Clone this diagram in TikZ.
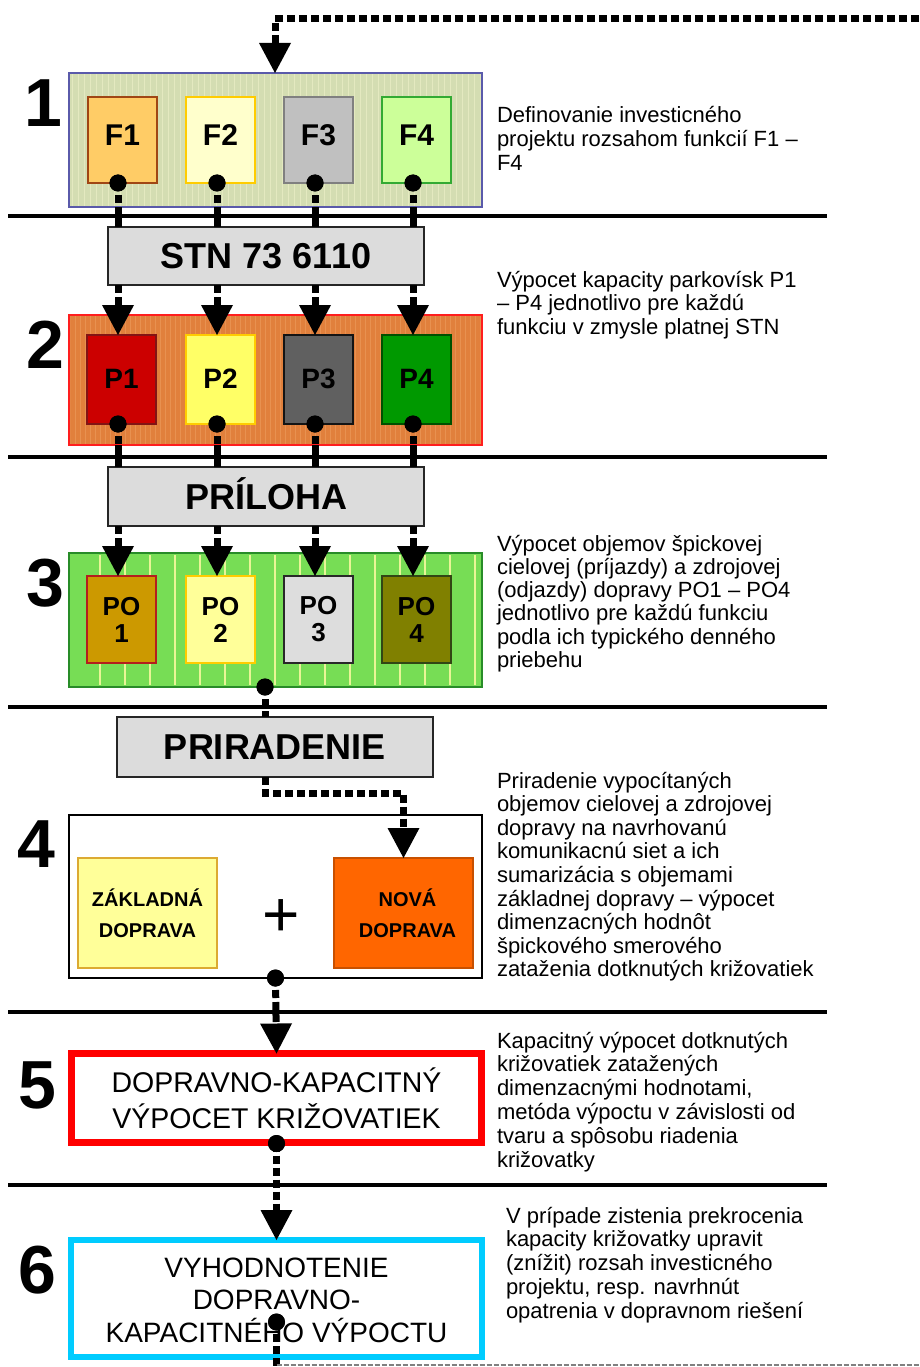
\documentclass[tikz,border=0pt]{standalone}
\usepackage{fontspec}
\setmainfont{Liberation Sans}
\usetikzlibrary{arrows.meta,calc}
\definecolor{b1fill}{RGB}{212,221,178}
\definecolor{b1grid}{RGB}{228,233,192}
\definecolor{b1line}{RGB}{90,90,170}
\definecolor{f1fill}{RGB}{255,204,102}\definecolor{f1line}{RGB}{160,70,20}
\definecolor{f2fill}{RGB}{255,255,204}\definecolor{f2line}{RGB}{255,204,0}
\definecolor{f3fill}{RGB}{192,192,192}\definecolor{f3line}{RGB}{128,128,128}
\definecolor{f4fill}{RGB}{204,255,153}\definecolor{f4line}{RGB}{51,170,51}
\definecolor{b2fill}{RGB}{225,128,60}\definecolor{b2line}{RGB}{255,30,30}
\definecolor{b2grid}{RGB}{232,145,80}
\definecolor{p1fill}{RGB}{204,0,0}\definecolor{p1line}{RGB}{130,20,20}
\definecolor{p2fill}{RGB}{255,255,102}\definecolor{p2line}{RGB}{255,204,0}
\definecolor{p3fill}{RGB}{96,96,96}\definecolor{p3line}{RGB}{20,20,20}
\definecolor{p4fill}{RGB}{0,153,0}\definecolor{p4line}{RGB}{0,80,0}
\definecolor{b3fill}{RGB}{119,221,85}\definecolor{b3line}{RGB}{40,140,40}
\definecolor{b3stripe}{RGB}{232,245,150}
\definecolor{o1fill}{RGB}{204,153,0}\definecolor{o1line}{RGB}{180,30,30}
\definecolor{o2fill}{RGB}{255,255,153}\definecolor{o2line}{RGB}{255,204,0}
\definecolor{o3fill}{RGB}{221,221,221}\definecolor{o3line}{RGB}{40,40,40}
\definecolor{o4fill}{RGB}{128,128,0}\definecolor{o4line}{RGB}{50,70,20}
\definecolor{grayfill}{RGB}{220,220,220}
\definecolor{zakfill}{RGB}{255,255,153}\definecolor{zakline}{RGB}{220,170,50}
\definecolor{novfill}{RGB}{255,102,0}\definecolor{novline}{RGB}{200,80,0}
\definecolor{red5}{RGB}{255,0,0}
\definecolor{cyan6}{RGB}{0,204,255}
\begin{document}
\begin{tikzpicture}[x=1pt,y=-1pt,
  every node/.style={inner sep=0pt, outer sep=0pt},
  frame/.style={draw, anchor=north west, line width=1.5pt},
  fbox/.style={frame, minimum width=69pt, minimum height=86pt, font=\fontsize{30}{30}\selectfont\bfseries, text height=21.5pt, text depth=10pt},
  pbox/.style={frame, minimum width=69pt, minimum height=89pt, font=\fontsize{28}{28}\selectfont\bfseries, text height=20pt, text depth=3pt},
  obox/.style={frame, minimum width=69pt, minimum height=87pt, font=\fontsize{26}{27}\selectfont\bfseries, align=center},
  graybox/.style={frame, fill=grayfill, draw=black!85, font=\fontsize{36}{36}\selectfont\bfseries, text height=25.8pt, text depth=0pt},
  smallbox/.style={frame, minimum width=139pt, minimum height=110pt, font=\fontsize{20}{31}\selectfont\bfseries, align=center},
  conn/.style={line width=7pt, dash pattern=on 8pt off 4pt},
  solidconn/.style={line width=7pt},
  arr/.style={conn, -{Triangle[width=32pt,length=30pt,line width=0pt]}},
  dotc/.style={circle, fill=black, minimum size=17pt},
  numlab/.style={font=\fontsize{68}{68}\selectfont\bfseries},
  desc/.style={anchor=base west},
  rulel/.style={line width=3.5pt},
  thinret/.style={line width=1.5pt, gray, dash pattern=on 5pt off 2pt},
]
\useasboundingbox (0,0) rectangle (919,1367);
\fill[white] (0,0) rectangle (919,1367);

% section rules
\foreach \yy in {216,457,707,1012,1185} \draw[rulel] (8,\yy) -- (827,\yy);

% connector columns
\coordinate (c1) at (118,0);
\coordinate (c2) at (217,0);
\coordinate (c3) at (315,0);
\coordinate (c4) at (413,0);
\coordinate (c5) at (265,0);

% ---------- step 1
\node[frame, fill=b1fill, draw=b1line, minimum width=413pt, minimum height=134pt] (B1) at (69,73) {};
\begin{scope}
\clip (70.5,74.5) rectangle (480.5,205.5);
\draw[line width=1pt, b1grid] (64,70) grid[step=6] (490,210);
\end{scope}
\node[fbox, fill=f1fill, draw=f1line] (F1) at (88,97) {F1};
\node[fbox, fill=f2fill, draw=f2line] (F2) at (186,97) {F2};
\node[fbox, fill=f3fill, draw=f3line] (F3) at (284,97) {F3};
\node[fbox, fill=f4fill, draw=f4line] (F4) at (382,97) {F4};

\node[graybox, minimum width=316pt, minimum height=58pt] (STN) at (108,227) {STN 73 6110};

% ---------- step 2
\node[frame, fill=b2fill, draw=b2line, minimum width=413pt, minimum height=130pt] (B2) at (69,315) {};
\begin{scope}
\clip (70.5,316.5) rectangle (480.5,443.5);
\draw[line width=0.8pt, b2grid] (64,310) grid[step=5] (490,450);
\end{scope}
\node[pbox, fill=p1fill, draw=p1line] (P1) at (87,335) {P1};
\node[pbox, fill=p2fill, draw=p2line] (P2) at (186,335) {P2};
\node[pbox, fill=p3fill, draw=p3line] (P3) at (284,335) {P3};
\node[pbox, fill=p4fill, draw=p4line] (P4) at (382,335) {P4};

\node[graybox, minimum width=316pt, minimum height=59pt] (PRIL) at (108,467) {PRÍLOHA};

% ---------- step 3
\node[frame, fill=b3fill, draw=b3line, minimum width=413pt, minimum height=134pt] (B3) at (69,553) {};
\foreach \xx in {100,125,...,475} \draw[b3stripe, line width=1.3pt] (\xx,555) -- (\xx,685);
\node[obox, fill=o1fill, draw=o1line] (O1) at (87,576) {PO\\1};
\node[obox, fill=o2fill, draw=o2line] (O2) at (186,576) {PO\\2};
\node[obox, fill=o3fill, draw=o3line] (O3) at (284,576) {PO\\3};
\node[obox, fill=o4fill, draw=o4line] (O4) at (382,576) {PO\\4};

\node[graybox, minimum width=316pt, minimum height=60pt] (PRI) at (117,717) {PRIRADENIE};

% ---------- step 4
\node[frame, fill=white, draw=black, minimum width=413pt, minimum height=163pt] (B4) at (69,815) {};
\node[smallbox, fill=zakfill, draw=zakline] (ZAK) at (78,858) {ZÁKLADNÁ\\DOPRAVA};
\node[smallbox, fill=novfill, draw=novline] (NOV) at (334,858) {\hspace*{8pt}NOVÁ\\\hspace*{8pt}DOPRAVA};
\node[font=\fontsize{64}{64}\selectfont] (PLUS) at (281,918) {+};

% ---------- step 5
\node[frame, fill=white, draw=red5, line width=7pt, minimum width=410pt, minimum height=89pt] (B5) at (71.5,1053.5) {};
\node[anchor=base] (T5box) at (276.5,1092) {\parbox[t]{400pt}{\centering\fontsize{28.5}{36}\selectfont DOPRAVNO-KAPACITNÝ\\VÝPOCET KRIŽOVATIEK}};

% ---------- step 6
\node[frame, fill=white, draw=cyan6, line width=6pt, minimum width=411pt, minimum height=117pt] (B6) at (71,1240) {};
\node[anchor=base] (T6box) at (276.5,1277) {\parbox[t]{400pt}{\centering\fontsize{28}{32.5}\selectfont VYHODNOTENIE\\DOPRAVNO-\\KAPACITNÉHO VÝPOCTU}};

% ---------- dots (named nodes)
\node[dotc] (dF1) at (F1.south -| c1) {};
\node[dotc] (dF2) at (F2.south -| c2) {};
\node[dotc] (dF3) at (F3.south -| c3) {};
\node[dotc] (dF4) at (F4.south -| c4) {};
\node[dotc] (dP1) at (P1.south -| c1) {};
\node[dotc] (dP2) at (P2.south -| c2) {};
\node[dotc] (dP3) at (P3.south -| c3) {};
\node[dotc] (dP4) at (P4.south -| c4) {};
\node[dotc] (d3) at (B3.south -| c5) {};
\node[dotc] (d4) at (B4.south) {};
\node[dotc] (d5) at ($(B5.south)+(0,1)$) {};
\node[dotc] (d6) at ($(B6.south)+(0,-35)$) {};

% ---------- connectors
\foreach \i in {1,...,4} {
  \draw[conn] (dF\i.center) -- (B1.south -| c\i);
  \draw[solidconn] (B1.south -| c\i) -- (STN.north -| c\i);
  \draw[arr] (STN.south -| c\i) -- (P\i.north -| c\i);
  \draw[conn] (dP\i.center) -- (B2.south -| c\i);
  \draw[solidconn] (B2.south -| c\i) -- (PRIL.north -| c\i);
  \draw[arr] (PRIL.south -| c\i) -- (O\i.north -| c\i);
}
\draw[conn] (d3.center) -- (PRI.north -| c5);
\coordinate (bendA) at (265,793);
\coordinate (bendB) at (403.5,793);
\draw[arr] (PRI.south -| c5) -- (bendA) -- (bendB) -- (NOV.north);
\draw[arr] (d4.center) -- (B5.north);
\draw[arr] (d5.center) -- (B6.north);
\coordinate (botEnd) at (276.5,1367);
\draw[conn] (d6.center) -- (botEnd);
\coordinate (retA) at (276.5,1365);
\coordinate (retB) at (919,1365);
\draw[thinret] (retA) -- (retB);
\coordinate (topR) at (919,19);
\coordinate (topC) at (275,19);
\draw[arr] (topR) -- (topC) -- (B1.north -| topC);

% redraw dots on top
\foreach \d in {dF1,dF2,dF3,dF4,dP1,dP2,dP3,dP4,d3,d4,d5,d6} \fill (\d) circle (8.5);

% ---------- step numbers
\node[numlab] (N1) at (43,103) {1};
\node[numlab] (N2) at (45,345) {2};
\node[numlab] (N3) at (45,583) {3};
\node[numlab] (N4) at (36,844) {4};
\node[numlab] (N5) at (37,1085) {5};
\node[numlab] (N6) at (37,1270) {6};

% ---------- descriptions
\node[desc] (T1) at (497,123) {\parbox[t]{360pt}{\raggedright\fontsize{22}{24}\selectfont Definovanie investicného\\projektu rozsahom funkcií F1 –\\F4}};
\node[desc] (T2) at (497,287) {\parbox[t]{360pt}{\raggedright\fontsize{22}{23.5}\selectfont Výpocet kapacity parkovísk P1\\– P4 jednotlivo pre každú\\funkciu v zmysle platnej STN}};
\node[desc] (T3) at (497,551) {\parbox[t]{360pt}{\raggedright\fontsize{22}{23.3}\selectfont Výpocet objemov špickovej\\cielovej (príjazdy) a zdrojovej\\(odjazdy) dopravy PO1 – PO4\\jednotlivo pre každú funkciu\\podla ich typického denného\\priebehu}};
\node[desc] (T4) at (497,788) {\parbox[t]{360pt}{\raggedright\fontsize{22}{23.6}\selectfont Priradenie vypocítaných\\objemov cielovej a zdrojovej\\dopravy na navrhovanú\\komunikacnú siet a ich\\sumarizácia s objemami\\základnej dopravy – výpocet\\dimenzacných hodnôt\\špickového smerového\\zataženia dotknutých križovatiek}};
\node[desc] (T5) at (497,1048) {\parbox[t]{360pt}{\raggedright\fontsize{22}{23.8}\selectfont Kapacitný výpocet dotknutých\\križovatiek zatažených\\dimenzacnými hodnotami,\\metóda výpoctu v závislosti od\\tvaru a spôsobu riadenia\\križovatky}};
\node[desc] (T6) at (506,1223) {\parbox[t]{360pt}{\raggedright\fontsize{22}{23.75}\selectfont V prípade zistenia prekrocenia\\kapacity križovatky upravit\\(znížit) rozsah investicného\\projektu, resp. navrhnút\\opatrenia v dopravnom riešení}};
\end{tikzpicture}
\end{document}
